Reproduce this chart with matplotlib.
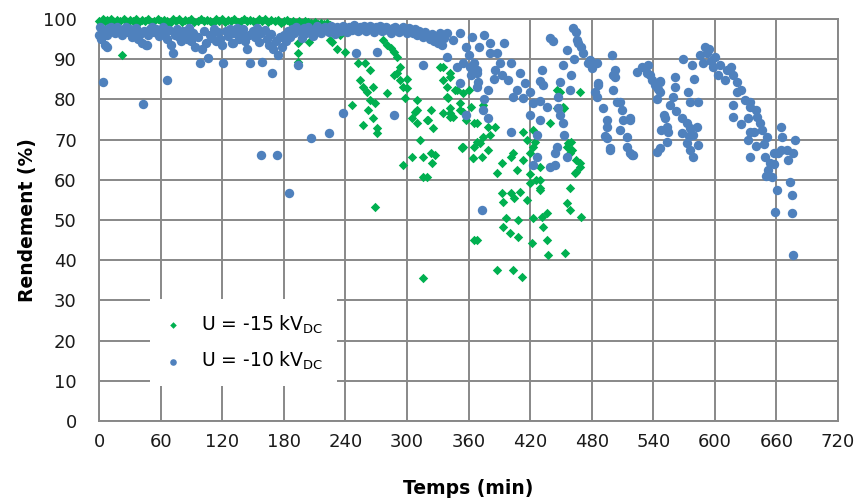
import matplotlib.pyplot as plt
import numpy as np

plt.rcParams['font.family'] = ['DejaVu Sans']

# U = -15 kV DC (green diamonds): time (min), yield (%)
t15 = [0, 2, 4, 6, 8, 10, 12, 14, 16, 18, 20, 24, 26, 28, 30, 33, 36, 39, 42, 45,
       48, 51, 54, 57, 60, 63, 66, 69, 72, 75, 78, 81, 84, 87, 90, 93, 96, 99, 102, 105,
       108, 111, 114, 117, 120, 123, 126, 129, 132, 135, 138, 141, 144, 147, 150, 153, 156, 159, 162, 165,
       168, 171, 174, 177, 180, 183, 186, 189, 192, 195, 198, 201, 204, 207, 210, 213, 216, 219, 222, 225,
       22, 194, 205, 194, 194, 227, 232, 240, 235, 225,
       252, 259, 264, 254, 257, 261, 267, 264, 269, 246, 262, 267, 257, 271, 271, 281, 277, 281, 284, 287,
       290, 293, 287, 293, 296, 300, 298, 310, 310, 323, 305, 310, 320, 325, 313, 316, 305, 296, 323, 327,
       324, 316, 320, 269, 316, 332, 335, 342, 339, 349, 355, 340, 342, 352, 345, 355, 354, 364, 368, 360,
       290, 300, 308, 321, 342, 365, 368, 354, 335, 342, 352, 339, 347, 362, 352, 342, 335, 374, 358, 368,
       379, 386, 374, 381, 371, 365, 355, 379, 373, 364, 401, 403, 393, 388, 407, 413, 417, 423, 425, 423,
       420, 413, 430, 420, 426, 420, 430, 393, 401, 410, 446, 449, 439, 453, 469, 457, 461, 465, 469, 464,
       459, 460, 365, 388, 403, 412, 437, 454, 394, 400, 408, 422, 423, 433, 436, 397, 408, 394, 404, 417,
       432, 436, 456, 459, 470, 430, 430, 469, 465, 459, 456, 446, 452, 449]
r15 = [99.6, 99.2, 100.0, 99.5, 99.8, 99.3, 100.0, 99.6, 99.1, 99.8, 99.4, 100.0, 99.5, 99.2, 99.8, 99.6, 100.0, 99.3, 99.7, 99.5,
       99.9, 99.2, 99.6, 100.0, 99.4, 99.8, 99.5, 99.1, 99.9, 99.6, 100.0, 99.3, 99.7, 99.5, 99.9, 99.2, 99.6, 100.0, 99.4, 99.8,
       99.5, 99.1, 99.9, 99.6, 100.0, 99.3, 99.7, 99.5, 99.9, 99.2, 99.6, 100.0, 99.4, 99.8, 99.5, 99.2, 99.9, 99.6, 100.0, 99.3,
       99.7, 99.4, 99.8, 99.1, 99.5, 99.8, 99.3, 99.6, 99.0, 99.4, 99.1, 99.5, 99.2, 98.9, 99.3, 98.8, 99.1, 98.7, 98.9, 98.5,
       91.0, 94.0, 94.3, 91.5, 89.3, 94.3, 92.5, 91.8, 96.0, 94.8,
       89.0, 89.0, 87.3, 84.8, 83.0, 81.8, 83.0, 79.9, 79.0, 78.6, 77.4, 75.4, 73.6, 72.9, 71.6, 81.6, 94.8, 93.5, 92.8, 91.8,
       90.5, 88.0, 86.0, 84.8, 83.0, 82.8, 80.3, 79.9, 77.4, 77.4, 75.4, 74.1, 74.9, 72.9, 69.9, 65.7, 65.7, 63.7, 66.7, 66.2,
       64.2, 60.7, 60.7, 53.2, 35.6, 88.0, 84.8, 86.6, 83.0, 82.3, 81.6, 80.3, 77.9, 79.0, 75.6, 76.9, 68.2, 65.4, 45.0, 82.3,
       86.6, 85.0, 76.9, 74.9, 76.6, 74.1, 69.4, 67.9, 88.0, 85.6, 84.1, 80.6, 82.3, 78.1, 77.4, 75.6, 76.6, 78.6, 74.9, 74.1,
       73.1, 73.1, 70.6, 71.1, 69.2, 68.2, 68.2, 67.4, 65.7, 65.4, 65.7, 66.7, 64.2, 61.7, 62.4, 71.9, 69.9, 72.4, 69.5, 68.2,
       66.7, 64.9, 63.2, 61.5, 60.0, 59.2, 58.0, 56.7, 56.7, 57.0, 82.3, 77.9, 74.1, 77.9, 81.8, 69.2, 67.4, 64.9, 63.2, 61.7,
       58.0, 69.5, 45.0, 37.6, 37.6, 35.8, 41.3, 41.8, 48.3, 46.8, 50.0, 44.3, 50.5, 48.3, 45.0, 50.5, 45.8, 54.5, 55.5, 55.0,
       50.7, 51.7, 54.2, 52.5, 50.7, 60.0, 57.5, 64.2, 62.0, 66.7, 68.2, 77.9, 78.1, 81.8]

# U = -10 kV DC (blue circles)
t10 = [0, 1, 2, 3, 5, 6, 8, 10, 12, 14, 16, 18, 20, 22, 24, 26, 28, 30, 32, 34,
       36, 38, 40, 42, 44, 46, 48, 50, 52, 54, 56, 58, 60, 62, 64, 66, 68, 70, 74, 76,
       78, 80, 82, 84, 86, 88, 90, 92, 94, 96, 100, 102, 104, 108, 110, 112, 114, 116, 118, 120,
       124, 126, 128, 130, 132, 134, 136, 138, 140, 142, 144, 146, 150, 152, 154, 156, 158, 162, 164, 166,
       168, 170, 172, 176, 178, 180, 182, 184, 186, 188, 190, 192, 196, 198, 200, 202, 204, 206, 208, 210,
       212, 214, 216, 218, 220, 222, 224, 226, 228, 230, 232, 234, 236, 238, 240, 242, 244, 246, 248, 250,
       252, 254, 256, 258, 260, 262, 264, 266, 268, 270, 272, 274, 276, 278, 280, 282, 284, 286, 288, 290,
       292, 294, 296, 298, 300, 302, 304, 306, 308, 310, 312, 314, 316, 318, 320, 322, 324, 326, 328, 330,
       332, 334, 336,
       4, 43, 66, 72, 8, 47, 98, 106, 121, 131, 147, 159, 169, 174, 194, 158, 173, 185, 207, 224,
       238, 250, 271, 287, 316, 373,
       339, 345, 352, 363, 358, 339, 349, 352, 365, 368, 368, 379, 381, 381, 388, 391, 386, 401, 410, 398,
       407, 403, 413, 420, 423, 430, 436, 439, 442, 462, 466, 472, 476, 456, 452, 432, 433, 449, 447, 459,
       447, 420, 430, 449, 452, 453, 427, 401, 379, 374, 358, 446, 444, 456, 439, 444, 423, 427, 360, 370,
       375, 395, 355, 362, 393, 415, 375, 385, 430, 460, 463, 470, 465, 467, 478, 485, 480, 361, 368, 369,
       500, 486, 483, 485, 501, 501, 505, 491, 495, 495, 510, 511, 517, 508, 514, 495, 498, 514, 520, 517,
       524, 529, 535, 534, 539, 542, 547, 547, 544, 561, 561, 559, 574, 584, 556, 576, 551, 553, 554, 547,
       544, 568, 573, 576, 583, 568, 579, 573, 584, 579, 576, 590, 592, 586, 588, 600, 598, 605, 603, 612,
       610, 618, 622, 625, 622, 629, 634, 634, 618, 632, 640, 641, 644, 646, 638, 632, 634, 651, 649, 654,
       652, 656, 658, 662, 664, 665, 670, 671, 676, 678, 661, 673, 675, 659, 675, 676, 664, 658, 594, 596,
       503, 503, 486, 493, 498, 508, 517, 519, 537, 545, 547, 550, 553, 562, 569, 578, 580, 548, 575, 616,
       618, 625, 634, 640, 650, 648]
r10 = [96.0, 98.0, 95.0, 97.5, 97.0, 93.5, 96.0, 97.8, 98.0, 97.0, 96.5, 98.0, 97.2, 96.0, 97.5, 98.0, 96.8, 97.6, 95.5, 96.5,
       97.8, 95.0, 96.2, 94.0, 97.0, 93.5, 96.0, 97.5, 98.0, 96.8, 97.4, 95.8, 97.0, 98.0, 96.5, 95.0, 97.2, 93.5, 96.0, 97.5,
       95.5, 94.5, 97.0, 96.2, 95.0, 97.8, 94.5, 96.5, 93.0, 95.5, 92.5, 97.0, 94.0, 96.0, 95.3, 97.5, 94.5, 96.8, 95.0, 93.5,
       97.0, 95.8, 97.6, 94.0, 96.5, 97.8, 95.0, 96.2, 97.5, 94.5, 92.5, 96.0, 97.0, 95.5, 97.8, 94.2, 96.5, 97.3, 95.0, 93.5,
       96.2, 92.5, 94.5, 95.5, 93.0, 96.0, 94.5, 97.0, 95.5, 97.5, 96.5, 98.0, 97.0, 95.3, 97.8, 96.5, 98.0, 97.2, 95.8, 97.6,
       98.2, 97.0, 96.5, 97.8, 98.0, 97.3, 96.8, 98.2, 97.5, 96.2, 98.0, 97.6, 97.0, 98.3, 97.8, 96.8, 98.0, 97.2, 98.4, 97.6,
       96.9, 98.0, 97.5, 98.2, 97.0, 97.8, 98.3, 97.4, 96.8, 98.0, 97.5, 98.2, 97.0, 97.8, 98.1, 97.2, 96.5, 97.8, 98.0, 97.3,
       96.8, 97.5, 98.0, 97.2, 96.6, 97.8, 97.0, 96.5, 97.4, 96.0, 97.0, 96.3, 95.5, 96.8, 95.8, 95.0, 96.2, 94.5, 95.5, 94.0,
       96.5, 93.5, 95.2,
       84.3, 78.9, 84.8, 91.5, 93.0, 93.5, 89.0, 90.3, 89.0, 94.0, 89.0, 89.3, 86.6, 91.0, 88.6, 66.2, 66.2, 56.7, 70.4, 71.6,
       76.6, 91.5, 91.8, 76.1, 88.6, 52.5,
       96.5, 94.8, 96.5, 95.5, 93.0, 90.5, 88.0, 84.0, 89.0, 86.6, 83.0, 82.3, 94.0, 91.5, 91.5, 89.0, 87.3, 89.0, 86.6, 84.8,
       82.3, 80.6, 80.3, 81.8, 79.0, 79.5, 78.1, 95.3, 94.5, 97.8, 94.8, 91.5, 89.0, 92.3, 88.6, 87.3, 83.6, 84.3, 80.6, 82.3,
       77.9, 76.1, 74.9, 76.1, 74.1, 71.1, 71.1, 71.9, 75.4, 77.4, 76.1, 68.2, 66.7, 65.7, 63.2, 63.7, 63.7, 65.7, 91.0, 93.0,
       96.0, 94.0, 89.0, 86.0, 86.0, 84.0, 80.0, 85.0, 84.5, 86.0, 90.0, 93.0, 96.8, 94.0, 89.8, 89.0, 87.8, 88.0, 87.3, 84.3,
       91.0, 83.6, 81.8, 80.6, 86.1, 82.3, 79.4, 77.9, 74.9, 73.1, 77.4, 74.9, 74.9, 72.4, 70.6, 70.4, 67.4, 68.2, 66.2, 66.7,
       86.8, 88.0, 88.6, 86.5, 84.8, 83.6, 84.3, 81.8, 80.0, 85.6, 83.0, 80.6, 81.8, 79.4, 78.6, 79.4, 75.4, 73.1, 71.8, 67.9,
       66.9, 75.4, 74.1, 72.9, 73.1, 71.6, 71.1, 69.2, 68.7, 65.7, 67.4, 93.0, 91.5, 91.0, 89.0, 90.5, 88.0, 88.6, 86.1, 87.3,
       84.8, 86.1, 84.3, 82.3, 81.8, 79.9, 79.4, 78.1, 75.6, 75.4, 77.4, 75.6, 74.1, 72.4, 71.8, 69.9, 65.7, 70.6, 65.7, 64.2,
       62.4, 60.7, 64.0, 66.7, 73.1, 70.6, 67.4, 64.9, 66.7, 69.9, 57.5, 59.5, 56.2, 52.0, 51.7, 41.3, 67.4, 66.7, 92.5, 89.5,
       87.3, 85.6, 84.0, 70.8, 67.9, 79.4, 75.4, 66.2, 86.0, 82.5, 84.5, 76.0, 69.5, 77.0, 90.0, 88.5, 85.0, 72.5, 71.0, 88.0,
       78.5, 74.0, 72.0, 68.5, 61.0, 69.0]

green = '#00B050'
blue = '#4F81BD'
grid_c = '#888888'

fig = plt.figure(figsize=(8.58, 5.01), dpi=100)
ax = fig.add_axes([0.1154, 0.1597, 0.8613, 0.8024])

ax.scatter(t15, r15, marker='D', s=23, color=green, linewidths=0, clip_on=False,
           zorder=3, label='U = -15 kV$_{\\mathregular{DC}}$')
ax.scatter(t10, r10, marker='o', s=46, color=blue, linewidths=0, clip_on=False,
           zorder=4, label='U = -10 kV$_{\\mathregular{DC}}$')

ax.set_xlim(0, 720)
ax.set_ylim(0, 100)
ax.set_xticks(np.arange(0, 721, 60))
ax.set_yticks(np.arange(0, 101, 10))
ax.grid(True, color=grid_c, linewidth=1.4, zorder=0)
ax.set_axisbelow(True)
for side in ['left', 'bottom', 'top', 'right']:
    ax.spines[side].set_color(grid_c)
    ax.spines[side].set_linewidth(1.4)
ax.tick_params(length=0, labelsize=13, colors='#1a1a1a')
ax.tick_params(axis='y', pad=16)
ax.tick_params(axis='x', pad=9)

ax.set_xlabel('Temps (min)', fontsize=13.5, fontweight='bold', labelpad=20)
ax.set_ylabel('Rendement (%)', fontsize=13.5, fontweight='bold', labelpad=4)

leg = ax.legend(loc='lower left', bbox_to_anchor=(0.069, 0.087), borderaxespad=0,
                frameon=True, fontsize=13.5, markerscale=0.7, handletextpad=1.05,
                labelspacing=0.75, borderpad=0.75, handlelength=0.9)
leg.get_frame().set_facecolor('white')
leg.get_frame().set_edgecolor('none')
leg.get_frame().set_alpha(1)
leg.get_frame().set_boxstyle('square', pad=0)
leg.set_zorder(5)

plt.savefig('out.png', dpi=100)
